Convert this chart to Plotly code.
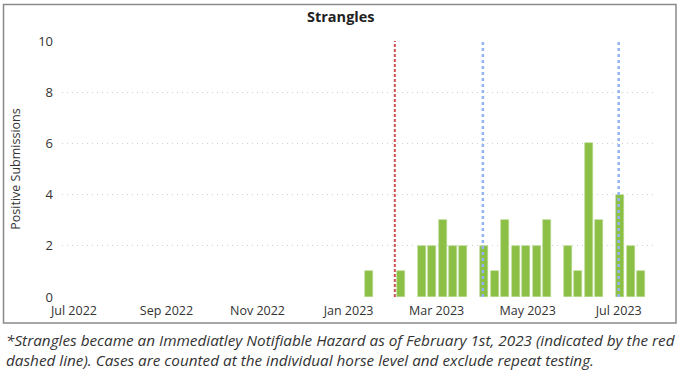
import plotly.graph_objects as go

# Weekly positive submissions (week starting Sunday)
week_start = ["2023-01-15", "2023-02-05", "2023-02-19", "2023-02-26", "2023-03-05",
              "2023-03-12", "2023-03-19", "2023-04-02", "2023-04-09", "2023-04-16",
              "2023-04-23", "2023-04-30", "2023-05-07", "2023-05-14", "2023-05-28",
              "2023-06-04", "2023-06-11", "2023-06-18", "2023-07-02", "2023-07-09",
              "2023-07-16"]
positives = [1, 1, 2, 2, 3, 2, 2, 2, 1, 3, 2, 2, 2, 3, 2, 1, 6, 3, 4, 2, 1]

notifiable_date = "2023-02-01"
quarter_marks = ["2023-04-01", "2023-07-01"]
y_ticks = [0, 2, 4, 6, 8, 10]
x_range = ["2022-06-23", "2023-07-24"]

title_text = "Strangles"
y_title = "Positive Submissions"
caption = ("*Strangles became an Immediatley Notifiable Hazard as of February 1st, 2023 (indicated by the red<br>"
           "dashed line). Cases are counted at the individual horse level and exclude repeat testing.")

FONT = "Open Sans"

fig = go.Figure()
fig.add_trace(go.Bar(
    x=week_start, y=positives,
    width=5.4 * 86400000,
    marker=dict(color="#8cbf45", line=dict(color="#b5d88a", width=0.6)),
    hoverinfo="x+y",
))

for d in [notifiable_date]:
    fig.add_shape(type="line", xref="x", yref="y", x0=d, x1=d, y0=0, y1=10.05,
                  line=dict(color="#cc5252", width=2, dash="3px,2px"), layer="above")
for d in quarter_marks:
    fig.add_shape(type="line", xref="x", yref="y", x0=d, x1=d, y0=0, y1=10.05,
                  line=dict(color="#92b4f4", width=2.5, dash="3px,3px"), layer="above")

# outer border around chart
L, R, T, B = 62, 29, 41, 78
W, H = 682, 375
pw, ph = W - L - R, H - T - B
def px_x(px): return (px - L) / pw
def px_y(py): return (H - B - py) / ph
fig.add_shape(type="rect", xref="paper", yref="paper",
              x0=px_x(3.5), x1=px_x(676), y0=px_y(323), y1=px_y(4.5),
              line=dict(color="#8a8a8a", width=1.5), fillcolor="rgba(0,0,0,0)")

fig.add_annotation(text="<b>" + title_text + "</b>", xref="paper", yref="paper",
                   x=px_x(341), y=px_y(16), showarrow=False,
                   font=dict(family=FONT, size=14.5, color="#222"), xanchor="center", yanchor="middle")
fig.add_annotation(text=caption, xref="paper", yref="paper",
                   x=px_x(4), y=px_y(328), showarrow=False, align="left",
                   font=dict(family=FONT, size=15.3, color="#333", style="italic"),
                   xanchor="left", yanchor="top")

fig.update_layout(
    width=W, height=H,
    margin=dict(l=L, r=R, t=T, b=B, pad=0),
    plot_bgcolor="white", paper_bgcolor="white",
    showlegend=False,
    font=dict(family=FONT, color="#333"),
    bargap=0,
)
fig.update_xaxes(
    type="date", range=x_range, tick0="2022-07-01", dtick="M2", tickformat="%b %Y",
    showgrid=False, zeroline=False, showline=False, ticks="",
    tickfont=dict(family=FONT, size=12.5, color="#333"), ticklabelstandoff=4,
)
fig.update_yaxes(
    range=[0, 10], tickvals=y_ticks, showgrid=True, gridcolor="#d0d0d0", griddash="1px,4px",
    gridwidth=1, zeroline=False, showline=False, ticks="",
    tickfont=dict(family=FONT, size=13, color="#333"), ticklabelstandoff=8,
    title=dict(text=y_title, font=dict(family=FONT, size=12.5, color="#333"), standoff=14),
)

fig.write_html("out.html", config={"displayModeBar": False},
               post_script="document.body.style.margin='0';")
